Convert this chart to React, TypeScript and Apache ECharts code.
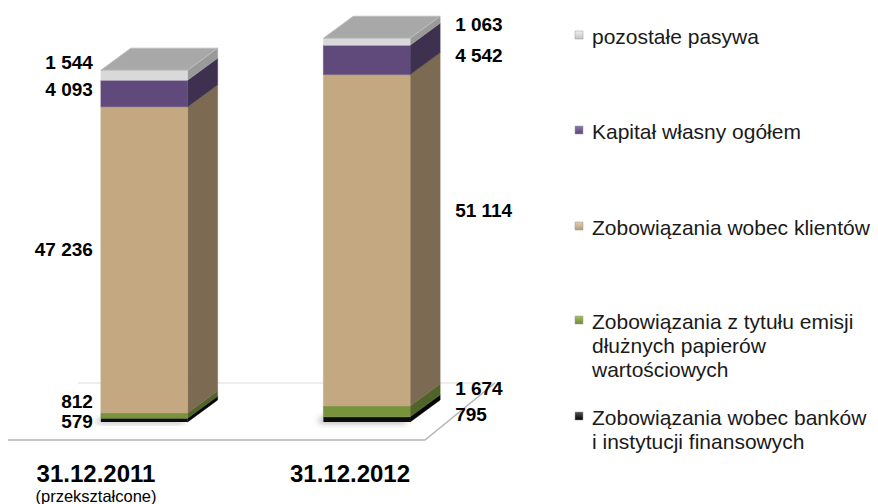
import React, { useEffect, useRef } from "react";
import * as echarts from "echarts";

// ---- data ----
const categories = ["31.12.2011", "31.12.2012"];
const categoryNotes = ["(przekształcone)", ""];
const seriesNames = [
  "Zobowiązania wobec banków\ni instytucji finansowych",
  "Zobowiązania z tytułu emisji\ndłużnych papierów\nwartościowych",
  "Zobowiązania wobec klientów",
  "Kapitał własny ogółem",
  "pozostałe pasywa",
];
const banks = [579, 795];
const debtSecurities = [812, 1674];
const clients = [47236, 51114];
const equity = [4093, 4542];
const otherLiabilities = [1544, 1063];
const seriesValues = [banks, debtSecurities, clients, equity, otherLiabilities];

// ---- styles / layout ----
const palette = [
  { front: "#0f0f0f", side: "#050505", top: "#333333", marker: ["#555555", "#000000"] },
  { front: "#77933c", side: "#506428", top: "#8faa55", marker: ["#a5c26a", "#6f8a35"] },
  { front: "#c4a882", side: "#7c6b52", top: "#d6c09e", marker: ["#e0cfb2", "#b89c76"] },
  { front: "#5f4a7b", side: "#3e3150", top: "#7a6597", marker: ["#8d78aa", "#5a4676"] },
  { front: "#d9d9d9", side: "#9a9a9a", top: "#a8a8a8", marker: ["#f0f0f0", "#c2c2c2"] },
];
const DX = 30;
const DY = -22;
const BAR_FRACTION = 0.39;
// label vertical offsets from segment centre [series][category]
const labelDy = [
  [1, -5],
  [-14, -23],
  [-10, -30],
  [-3.5, -4.5],
  [-13, -17],
];
const legendFirstLineY = [36, 131, 227, 321, 417];
const categoryLabelX = [96, 350];

const fmt = (v: number) => String(v).replace(/\B(?=(\d{3})+(?!\d))/g, " ");
const FONT = "Arial, 'Liberation Sans', sans-serif";

export default function App() {
  const ref = useRef<HTMLDivElement>(null);
  useEffect(() => {
    if (!ref.current) return;
    const chart = echarts.init(ref.current, undefined, { renderer: "svg" });

    const makeRenderItem = (si: number) => (params: any, api: any) => {
      const cat = api.value(0) as number;
      const lo = api.value(1) as number;
      const hi = api.value(2) as number;
      const pLo = api.coord([cat, lo]);
      const pHi = api.coord([cat, hi]);
      const band = api.size([1, 0])[0];
      const w = band * BAR_FRACTION;
      const x0 = pLo[0] - w / 2;
      const x1 = x0 + w;
      const yb = pLo[1];
      const yt = pHi[1];
      const c = palette[si];
      const children: any[] = [
        {
          type: "polygon",
          shape: { points: [[x1, yb], [x1 + DX, yb + DY], [x1 + DX, yt + DY], [x1, yt]] },
          style: { fill: c.side, stroke: c.side, lineWidth: 0.5 },
        },
        {
          type: "rect",
          shape: { x: x0, y: yt, width: w, height: yb - yt },
          style: si === 0
            ? { fill: c.front, shadowBlur: 6, shadowColor: "rgba(0,0,0,0.35)", shadowOffsetX: -4, shadowOffsetY: 1 }
            : { fill: c.front, stroke: c.front, lineWidth: 0.5 },
        },
      ];
      if (si === seriesValues.length - 1) {
        children.push({
          type: "polygon",
          shape: { points: [[x0, yt], [x0 + DX, yt + DY], [x1 + DX, yt + DY], [x1, yt]] },
          style: { fill: c.top, stroke: "#bdbdbd", lineWidth: 1 },
        });
      }
      const val = hi - lo;
      children.push({
        type: "text",
        style: {
          text: fmt(Math.round(val)),
          x: cat === 0 ? x0 - 8 : x1 + DX + 15,
          y: (yb + yt) / 2 + labelDy[si][cat],
          align: cat === 0 ? "right" : "left",
          verticalAlign: "middle",
          fontSize: 19,
          fontWeight: "bold",
          fontFamily: FONT,
          fill: "#000000",
        },
      });
      return { type: "group", children };
    };

    const series = seriesValues.map((vals, si) => {
      const data = categories.map((_, ci) => {
        let base = 0;
        for (let k = 0; k < si; k++) base += seriesValues[k][ci];
        return [ci, base, base + vals[ci]];
      });
      return {
        type: "custom",
        name: seriesNames[si],
        renderItem: makeRenderItem(si),
        encode: { x: 0, y: [1, 2] },
        data,
        z: 3,
      };
    });

    const graphic: any[] = [];
    // floor
    graphic.push({
      type: "polygon",
      z: 0,
      shape: { points: [[8, 440], [425, 440], [495, 383], [78, 383]] },
      style: { fill: "#ffffff" },
    });
    graphic.push({
      type: "polyline",
      z: 1,
      shape: { points: [[78, 383], [495, 383]] },
      style: { stroke: "#dcdcdc", lineWidth: 1, fill: "none" },
    });
    graphic.push({
      type: "polyline",
      z: 1,
      shape: { points: [[8, 440], [425, 440], [495, 383]] },
      style: { stroke: "#b4b4b4", lineWidth: 1.5, fill: "none" },
    });
    // category labels
    categories.forEach((cName, ci) => {
      graphic.push({
        type: "text",
        z: 5,
        style: {
          text: cName,
          x: categoryLabelX[ci],
          y: 473,
          align: "center",
          verticalAlign: "middle",
          fontSize: 24,
          fontWeight: "bold",
          fontFamily: FONT,
          fill: "#000000",
        },
      });
      if (categoryNotes[ci]) {
        graphic.push({
          type: "text",
          z: 5,
          style: {
            text: categoryNotes[ci],
            x: categoryLabelX[ci],
            y: 496,
            align: "center",
            verticalAlign: "middle",
            fontSize: 16.5,
            fontFamily: FONT,
            fill: "#000000",
          },
        });
      }
    });
    // legend (top item first)
    const order = [4, 3, 2, 1, 0];
    order.forEach((si, li) => {
      const y = legendFirstLineY[li];
      graphic.push({
        type: "rect",
        z: 5,
        shape: { x: 575, y: y - 5, width: 8, height: 8 },
        style: {
          fill: new echarts.graphic.LinearGradient(0, 0, 0, 1, [
            { offset: 0, color: palette[si].marker[0] },
            { offset: 1, color: palette[si].marker[1] },
          ]),
          stroke: "#9a9a9a",
          lineWidth: 0.5,
        },
      });
      graphic.push({
        type: "text",
        z: 5,
        style: {
          text: seriesNames[si],
          x: 592,
          y: y - 12,
          align: "left",
          verticalAlign: "top",
          lineHeight: 24,
          fontSize: 21,
          fontFamily: FONT,
          fill: "#1a1a1a",
        },
      });
    });

    chart.setOption({
      animation: false,
      backgroundColor: "#ffffff",
      grid: { left: 33, right: 400, top: 33, bottom: 82 },
      xAxis: {
        type: "category",
        data: categories,
        axisLine: { show: false },
        axisTick: { show: false },
        axisLabel: { show: false },
        splitLine: { show: false },
      },
      yAxis: {
        type: "value",
        min: 0,
        max: 60000,
        show: false,
        splitLine: { show: false },
      },
      graphic,
      series,
    });
    return () => chart.dispose();
  }, []);
  return (
    <div
      ref={ref}
      style={{ position: "fixed", left: 0, top: 0, width: 878, height: 504, background: "#fff" }}
    />
  );
}
